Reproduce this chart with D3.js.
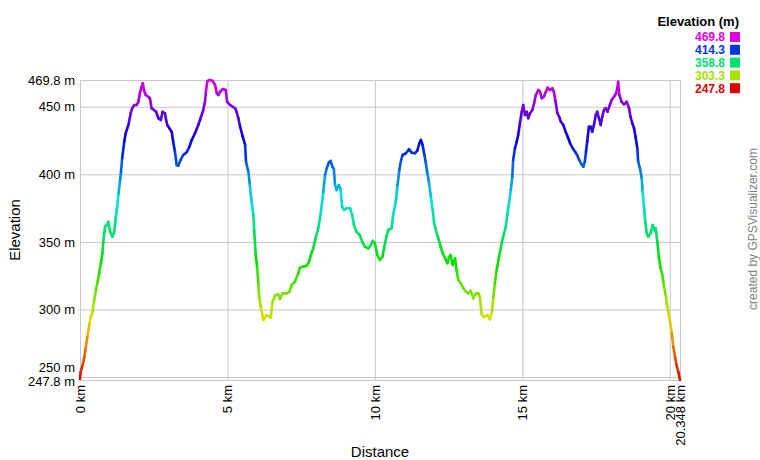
<!DOCTYPE html>
<html>
<head>
<meta charset="utf-8">
<script src="https://cdn.jsdelivr.net/npm/d3@7"></script>
<style>
  html, body { margin: 0; padding: 0; background: #fff; }
  svg { display: block; font-family: "Liberation Sans", Arial, sans-serif; }
</style>
</head>
<body>
<svg id="chart" width="760" height="460"></svg>
<script>
const distKm = [0, 0.02, 0.09, 0.15, 0.20, 0.26, 0.32, 0.37, 0.43, 0.48, 0.54, 0.60, 0.65, 0.71, 0.76, 0.79, 0.85, 0.91, 0.96, 1.02, 1.10, 1.16, 1.21, 1.26, 1.31, 1.36, 1.39, 1.43, 1.50, 1.55, 1.64, 1.72, 1.77, 1.84, 1.92, 1.98, 2.03, 2.09, 2.13, 2.17, 2.23, 2.32, 2.37, 2.43, 2.51, 2.58, 2.66, 2.74, 2.80, 2.88, 2.92, 2.96, 3.03, 3.11, 3.16, 3.22, 3.28, 3.33, 3.41, 3.50, 3.62, 3.71, 3.79, 3.90, 4.01, 4.09, 4.18, 4.24, 4.27, 4.32, 4.41, 4.50, 4.58, 4.64, 4.69, 4.75, 4.84, 4.94, 4.99, 5.09, 5.18, 5.26, 5.31, 5.37, 5.43, 5.52, 5.60, 5.63, 5.71, 5.76, 5.82, 5.88, 5.91, 5.96, 6.01, 6.05, 6.08, 6.14, 6.22, 6.33, 6.47, 6.53, 6.61, 6.72, 6.78, 6.87, 7.01, 7.10, 7.18, 7.29, 7.40, 7.46, 7.57, 7.69, 7.77, 7.83, 7.91, 7.99, 8.08, 8.14, 8.20, 8.25, 8.31, 8.37, 8.44, 8.50, 8.56, 8.61, 8.65, 8.70, 8.78, 8.84, 8.89, 8.95, 9.04, 9.16, 9.23, 9.29, 9.38, 9.49, 9.57, 9.66, 9.78, 9.86, 9.93, 10.00, 10.08, 10.17, 10.26, 10.31, 10.38, 10.45, 10.57, 10.62, 10.71, 10.77, 10.83, 10.89, 10.94, 11.05, 11.16, 11.25, 11.36, 11.44, 11.51, 11.56, 11.62, 11.68, 11.73, 11.78, 11.84, 11.90, 11.96, 12.01, 12.10, 12.17, 12.23, 12.30, 12.38, 12.46, 12.52, 12.57, 12.64, 12.72, 12.77, 12.83, 12.91, 13.00, 13.09, 13.17, 13.25, 13.34, 13.43, 13.51, 13.56, 13.62, 13.70, 13.82, 13.90, 13.97, 14.02, 14.07, 14.13, 14.21, 14.28, 14.35, 14.44, 14.49, 14.55, 14.61, 14.66, 14.69, 14.75, 14.81, 14.86, 14.92, 14.98, 15.03, 15.09, 15.15, 15.20, 15.26, 15.34, 15.40, 15.46, 15.54, 15.60, 15.66, 15.73, 15.80, 15.86, 15.94, 16.02, 16.07, 16.13, 16.19, 16.25, 16.31, 16.39, 16.47, 16.54, 16.62, 16.71, 16.79, 16.86, 16.93, 17.01, 17.07, 17.12, 17.16, 17.20, 17.26, 17.32, 17.37, 17.43, 17.49, 17.54, 17.60, 17.66, 17.71, 17.77, 17.83, 17.89, 17.97, 18.03, 18.11, 18.18, 18.23, 18.25, 18.29, 18.37, 18.45, 18.54, 18.62, 18.67, 18.73, 18.79, 18.84, 18.90, 18.93, 18.99, 19.05, 19.08, 19.13, 19.17, 19.22, 19.27, 19.35, 19.42, 19.48, 19.52, 19.58, 19.63, 19.69, 19.75, 19.80, 19.86, 19.91, 19.97, 20.00, 20.07, 20.12, 20.18, 20.23, 20.29, 20.348];

const elevM = [248.5, 253.7, 258.9, 265.0, 272.4, 281.1, 289.8, 294.6, 298.3, 307.0, 314.4, 320.5, 326.8, 334.2, 341.6, 350.1, 361.2, 362.5, 364.9, 357.5, 353.8, 357.5, 367.5, 376.0, 386.0, 395.8, 401.7, 411.9, 424.1, 430.4, 436.5, 445.2, 448.9, 451.3, 451.3, 453.7, 460.0, 464.8, 467.4, 462.4, 458.7, 457.4, 456.3, 448.9, 447.6, 446.3, 441.5, 440.2, 446.3, 445.2, 440.2, 436.5, 434.1, 431.5, 424.1, 416.7, 406.9, 406.4, 410.6, 414.3, 416.3, 420.4, 425.4, 430.4, 436.5, 441.5, 447.6, 453.7, 461.1, 469.1, 469.8, 469.1, 466.1, 460.0, 458.7, 461.1, 463.1, 462.4, 453.7, 451.3, 450.0, 448.9, 446.3, 441.5, 435.2, 427.8, 421.7, 409.3, 401.9, 392.1, 379.7, 369.9, 357.5, 340.3, 330.5, 318.1, 308.3, 300.9, 292.2, 295.9, 293.9, 305.7, 310.2, 311.2, 307.7, 311.9, 311.9, 313.1, 318.1, 320.5, 326.8, 330.9, 331.7, 332.4, 335.3, 340.3, 345.3, 352.7, 360.1, 367.5, 377.3, 387.1, 399.5, 404.5, 408.9, 409.9, 405.6, 403.9, 392.1, 388.4, 392.1, 388.4, 376.0, 373.6, 374.9, 374.9, 369.9, 362.5, 357.5, 355.1, 350.1, 346.4, 345.3, 347.7, 350.7, 349.0, 340.3, 336.6, 339.0, 345.3, 352.7, 358.8, 360.1, 369.9, 379.7, 392.1, 403.2, 410.6, 414.3, 415.6, 418.5, 416.0, 415.6, 417.5, 423.0, 425.4, 421.7, 414.3, 408.2, 400.8, 393.4, 383.4, 373.6, 363.8, 356.4, 351.4, 346.4, 341.6, 337.9, 334.2, 339.0, 340.3, 332.9, 337.9, 329.2, 321.8, 319.4, 315.7, 313.1, 311.9, 313.9, 308.3, 311.9, 311.9, 309.4, 296.6, 294.4, 295.9, 292.7, 298.3, 309.4, 319.4, 329.2, 339.0, 346.4, 353.8, 361.2, 369.9, 378.6, 388.4, 398.2, 410.6, 419.3, 424.1, 429.1, 437.8, 446.3, 451.3, 443.9, 446.3, 441.5, 445.2, 447.6, 452.6, 458.7, 462.4, 461.1, 456.3, 457.4, 461.1, 464.1, 462.4, 463.7, 461.1, 453.7, 445.2, 442.6, 438.9, 436.5, 431.5, 427.8, 423.0, 419.3, 416.7, 414.3, 410.6, 407.4, 405.6, 409.3, 416.7, 424.1, 435.2, 435.2, 431.5, 436.5, 443.9, 446.3, 441.5, 436.5, 442.6, 447.6, 448.9, 446.3, 451.3, 455.0, 457.4, 460.0, 464.8, 468.5, 458.7, 453.7, 451.8, 453.7, 448.9, 442.6, 437.8, 434.1, 427.8, 419.3, 409.3, 404.5, 397.1, 387.1, 374.9, 364.9, 356.4, 353.8, 356.4, 362.5, 358.8, 360.1, 350.1, 339.0, 330.5, 325.5, 318.1, 310.7, 303.3, 295.9, 292.2, 282.4, 272.4, 265.0, 258.9, 253.9, 247.8];

const yTickValues = [247.8, 250, 300, 350, 400, 450, 469.8];
const xTickValues = [0, 5, 10, 15, 20, 20.348];
const legendValues = [469.8, 414.3, 358.8, 303.3, 247.8];
const elevMin = 247.8, elevMax = 469.8, distMax = 20.348;

const svg = d3.select("#chart");
const L = 80, R = 680, T = 80, B = 380;

const x = d3.scaleLinear().domain([0, distMax]).range([L, R]);
const y = d3.scaleLinear().domain([elevMin, elevMax]).range([B, T]);
const hue = d3.scaleLinear().domain([elevMin, elevMax]).range([0, 300]);
const colorOf = v => d3.hsl(hue(v), 1, 0.44).formatHex();

const fmtNum = v => String(v);

// Y axis with gridlines
const yAxis = d3.axisLeft(y).tickValues(yTickValues).tickSize(-(R - L)).tickPadding(5)
  .tickFormat(d => fmtNum(d) + " m");
const gy = svg.append("g").attr("transform", `translate(${L},0)`).call(yAxis);
gy.select(".domain").remove();
gy.selectAll(".tick line").attr("stroke", "#c8c8c8").attr("stroke-width", 1);
gy.selectAll(".tick text").attr("font-size", 13).attr("fill", "#000")
  .attr("font-family", "Liberation Sans, Arial, sans-serif");
// nudge overlapping labels (250 m vs 247.8 m)
gy.selectAll(".tick").filter(d => d === 250).select("text").attr("dy", "-0.4em");
gy.selectAll(".tick").filter(d => d === 247.8).select("text").attr("dy", "0.45em");

// X axis with gridlines
const xAxis = d3.axisBottom(x).tickValues(xTickValues).tickSize(-(B - T)).tickPadding(0)
  .tickFormat(d => fmtNum(d) + " km");
const gx = svg.append("g").attr("transform", `translate(0,${B})`).call(xAxis);
gx.select(".domain").remove();
gx.selectAll(".tick line").attr("stroke", "#c8c8c8").attr("stroke-width", 1);
gx.selectAll(".tick text")
  .attr("font-size", 13).attr("fill", "#000")
  .attr("font-family", "Liberation Sans, Arial, sans-serif")
  .attr("text-anchor", "end")
  .attr("transform", "translate(0,5) rotate(-90)")
  .attr("x", 0).attr("y", 0).attr("dy", "0.35em");

// Elevation line, coloured by elevation
const pts = d3.range(Math.min(distKm.length, elevM.length)).map(i => [distKm[i], elevM[i]]);
const segs = pts.slice(1).map((p, i) => [pts[i], p]);
svg.append("g").selectAll("line").data(segs).join("line")
  .attr("x1", d => x(d[0][0])).attr("y1", d => y(d[0][1]))
  .attr("x2", d => x(d[1][0])).attr("y2", d => y(d[1][1]))
  .attr("stroke", d => colorOf((d[0][1] + d[1][1]) / 2))
  .attr("stroke-width", 2.6)
  .attr("stroke-linecap", "round");

// Axis titles
svg.append("text").attr("x", 380).attr("y", 457).attr("text-anchor", "middle")
  .attr("font-size", 15).text("Distance");
svg.append("text").attr("transform", "translate(20,230) rotate(-90)").attr("text-anchor", "middle")
  .attr("font-size", 15).text("Elevation");

// Legend
svg.append("text").attr("x", 739).attr("y", 26).attr("text-anchor", "end")
  .attr("font-size", 13).attr("font-weight", "bold").text("Elevation (m)");
const lg = svg.append("g").selectAll("g").data(legendValues).join("g")
  .attr("transform", (d, i) => `translate(0,${37 + i * 12.8})`);
lg.append("text").attr("x", 725).attr("y", 0).attr("dy", "0.36em").attr("text-anchor", "end")
  .attr("font-size", 12).attr("font-weight", "bold")
  .attr("fill", d => colorOf(d)).text(d => fmtNum(d));
lg.append("rect").attr("x", 730).attr("y", -5).attr("width", 10).attr("height", 10)
  .attr("fill", d => colorOf(d));

// Credit
svg.append("text").attr("transform", "translate(757,229) rotate(-90)").attr("text-anchor", "middle")
  .attr("font-size", 12).attr("fill", "#808080").text("created by GPSVisualizer.com");
</script>
</body>
</html>
